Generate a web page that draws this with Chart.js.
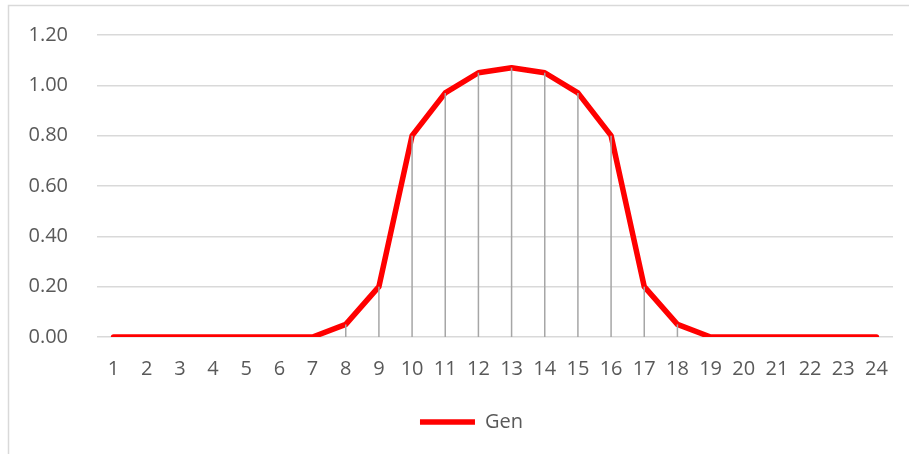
<!DOCTYPE html>
<html lang="en">
<head>
    <meta charset="UTF-8">
    <title>Gen</title>
    <style>
        body {
            margin: 0;
            padding: 0;
            background: #ffffff;
        }
        .chart-box {
            position: relative;
            width: 909px;
            height: 454px;
        }
    </style>
</head>
<body>
    <div class="chart-box">
        <canvas id="genChart"></canvas>
    </div>

    <script src="https://cdn.jsdelivr.net/npm/chart.js"></script>
    <script>
        // Hourly generation, hours 1..24
        const hours = ['1', '2', '3', '4', '5', '6', '7', '8', '9', '10', '11', '12',
                       '13', '14', '15', '16', '17', '18', '19', '20', '21', '22', '23', '24'];
        const genValues = [0, 0, 0, 0, 0, 0, 0, 0.05, 0.2, 0.8, 0.97, 1.05,
                           1.07, 1.05, 0.97, 0.8, 0.2, 0.05, 0, 0, 0, 0, 0, 0];
        const seriesName = 'Gen';

        const textColor = '#595959';
        const gridColor = '#d9d9d9';
        const fontFamily = '"Open Sans", "Liberation Sans", sans-serif';

        // light frame around the chart (left and top edges visible)
        const framePlugin = {
            id: 'frame',
            beforeDraw(chart) {
                const c = chart.ctx;
                c.save();
                c.strokeStyle = gridColor;
                c.lineWidth = 1.5;
                c.beginPath();
                c.moveTo(8.5, chart.height);
                c.lineTo(8.5, 5.5);
                c.lineTo(chart.width, 5.5);
                c.stroke();
                c.restore();
            }
        };

        // nudge the legend a bit to the right of the canvas centre
        const legendShift = {
            id: 'legendShift',
            afterLayout(chart) {
                chart.legend.left += 25;
                chart.legend.right += 25;
            }
        };

        // vertical drop lines from each point down to the axis
        const dropLines = {
            id: 'dropLines',
            afterDatasetsDraw(chart) {
                const meta = chart.getDatasetMeta(0);
                const base = chart.scales.y.getPixelForValue(0);
                const c = chart.ctx;
                c.save();
                c.strokeStyle = '#a6a6a6';
                c.lineWidth = 1.5;
                meta.data.forEach(pt => {
                    if (base - pt.y < 1) return;
                    c.beginPath();
                    c.moveTo(pt.x, pt.y);
                    c.lineTo(pt.x, base);
                    c.stroke();
                });
                c.restore();
            }
        };

        const ctx = document.getElementById('genChart').getContext('2d');
        new Chart(ctx, {
            type: 'line',
            data: {
                labels: hours,
                datasets: [{
                    label: seriesName,
                    data: genValues,
                    borderColor: '#ff0000',
                    backgroundColor: '#ff0000',
                    borderWidth: 5.5,
                    borderCapStyle: 'round',
                    borderJoinStyle: 'round',
                    pointRadius: 0,
                    tension: 0
                }]
            },
            options: {
                responsive: true,
                maintainAspectRatio: false,
                animation: false,
                layout: {
                    padding: { top: 35, right: 16, bottom: 12, left: 0 }
                },
                plugins: {
                    tooltip: { enabled: false },
                    legend: {
                        position: 'bottom',
                        labels: {
                            usePointStyle: true,
                            pointStyle: 'line',
                            pointStyleWidth: 55,
                            padding: 10,
                            color: textColor,
                            font: { family: fontFamily, size: 20 }
                        }
                    }
                },
                scales: {
                    x: {
                        offset: true,
                        grid: { display: false },
                        border: { display: false },
                        ticks: {
                            color: textColor,
                            padding: 12,
                            maxRotation: 0,
                            autoSkip: false,
                            font: { family: fontFamily, size: 20 }
                        },
                        afterFit(scale) { scale.height = 65; }
                    },
                    y: {
                        min: 0,
                        max: 1.2,
                        grid: { color: gridColor, lineWidth: 1.5, drawTicks: false },
                        border: { display: false },
                        ticks: {
                            stepSize: 0.2,
                            color: textColor,
                            padding: 29,
                            font: { family: fontFamily, size: 20 },
                            callback: v => Number(v).toFixed(2)
                        },
                        afterFit(scale) {
                            // fixed axis width; label padding should not push the plot down
                            scale.width = 97;
                            scale.paddingTop = 0;
                            scale.paddingBottom = 0;
                        }
                    }
                }
            },
            plugins: [framePlugin, legendShift, dropLines]
        });
    </script>
</body>
</html>
